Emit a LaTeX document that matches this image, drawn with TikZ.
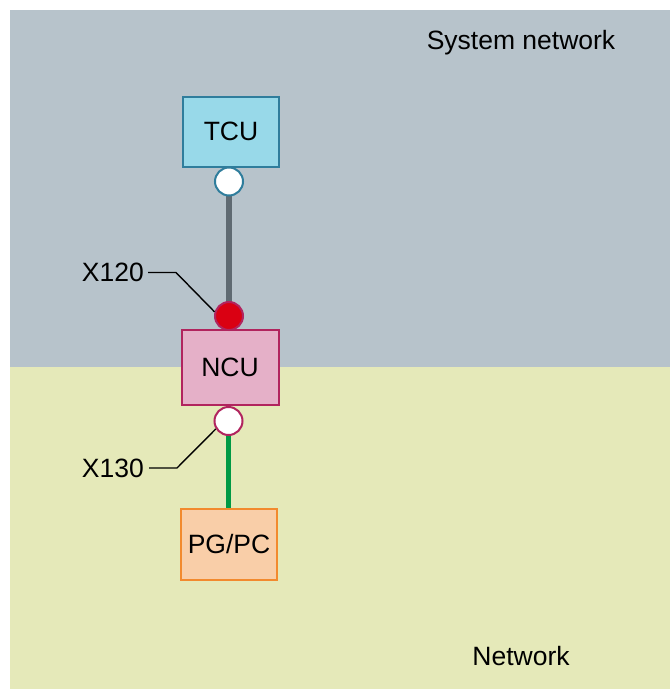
\documentclass[tikz,border=0pt]{standalone}
\usepackage{fontspec}
\setmainfont{Liberation Sans}
\pgfdeclarelayer{bglayer}
\pgfdeclarelayer{cablelayer}
\pgfsetlayers{bglayer,cablelayer,main}
\begin{document}
\begin{tikzpicture}[x=1pt,y=-1pt,
  lbl/.style={font=\fontsize{26.5}{30}\selectfont, inner sep=0pt},
  devbox/.style={draw, line width=2pt, minimum width=96pt, font=\fontsize{26.5}{30}\selectfont, inner sep=0pt},
  port/.style={circle, draw, line width=2pt, minimum size=28pt, inner sep=0pt},
  leader/.style={draw=black, line width=1.4pt}
]
\definecolor{sysbg}{HTML}{B7C3CB}
\definecolor{netbg}{HTML}{E5E9B9}
\definecolor{tcufill}{HTML}{98D9E9}
\definecolor{tculine}{HTML}{2F7D9C}
\definecolor{ncufill}{HTML}{E5B0C8}
\definecolor{nculine}{HTML}{B1245E}
\definecolor{pgfill}{HTML}{F9CEA8}
\definecolor{pgline}{HTML}{F28A2E}
\definecolor{portred}{HTML}{DA0012}
\definecolor{cablegray}{HTML}{5F6A72}
\definecolor{cablegreen}{HTML}{009A44}
\useasboundingbox (0,0) rectangle (670,689);
\begin{pgfonlayer}{bglayer}
\fill[white] (0,0) rectangle (670,689);
\fill[sysbg] (10,10) rectangle (670,367);
\fill[netbg] (10,367) rectangle (670,689);
\end{pgfonlayer}

\node[lbl] (sysnet) at (521,43) {System network};
\node[lbl] (net) at (521,656) {Network};

\node[devbox, draw=tculine, fill=tcufill, minimum height=70pt] (tcu) at (231,131.5) {TCU};
\node[devbox, draw=nculine, fill=ncufill, minimum height=75pt, minimum width=97pt] (ncu) at (230,367) {NCU};
\node[devbox, draw=pgline, fill=pgfill, minimum height=71pt] (pg) at (229,544) {PG/PC};

\node[port, draw=tculine, fill=white] (tcuport) at (229,181.5) {};
\node[port, draw=nculine, fill=portred] (x120) at (229,316) {};
\node[port, draw=nculine, fill=white] (x130) at (228.5,421) {};

\begin{pgfonlayer}{cablelayer}
\draw[cablegray, line width=6pt] (tcuport.center) -- (x120.center);
\draw[cablegreen, line width=5pt] (x130.center) -- (x130.center |- pg.north);
\end{pgfonlayer}

\node[lbl, anchor=east] (x120lbl) at (144,272.5) {X120};
\node[lbl, anchor=east] (x130lbl) at (144,468) {X130};
\coordinate (k120) at (176,272.5);
\coordinate (k130) at (177,468);
\draw[leader] ([xshift=4pt]x120lbl.east) -- (k120) -- (x120.164);
\draw[leader] ([xshift=5pt]x130lbl.east) -- (k130) -- (x130.212);
\end{tikzpicture}
\end{document}
